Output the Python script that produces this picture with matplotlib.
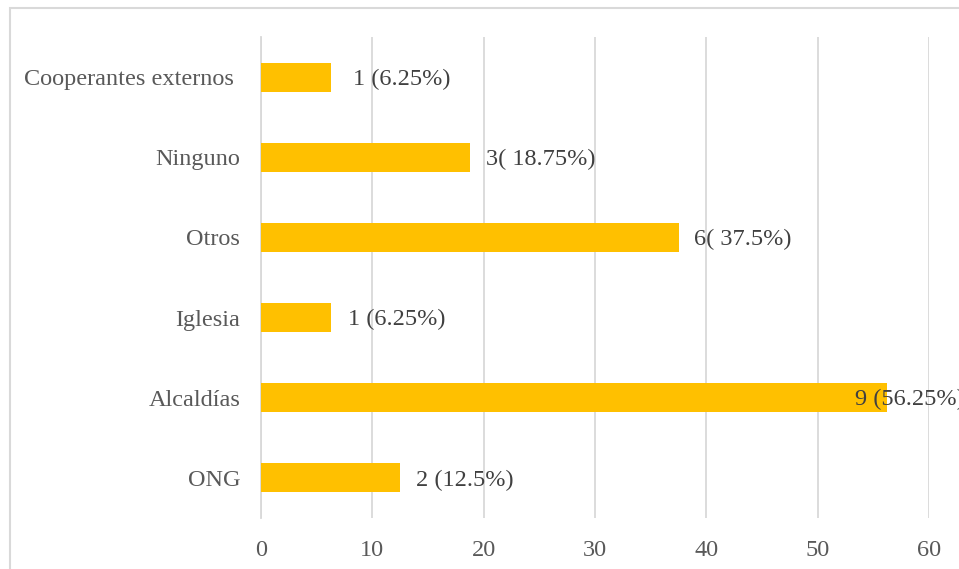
import matplotlib
matplotlib.use("Agg")
import matplotlib.pyplot as plt
from matplotlib.patches import Rectangle

categories = ["ONG", "Alcaldías", "Iglesia", "Otros", "Ninguno", "Cooperantes externos "]
values = [12.5, 56.25, 6.25, 37.5, 18.75, 6.25]
labels = ["2 (12.5%)", "9 (56.25%)", "1 (6.25%)", "6( 37.5%)", "3( 18.75%)", "1 (6.25%)"]
label_offsets_px = [16, -32, 17, 16, 16, 22]
xticks = [0, 10, 20, 30, 40, 50, 60]

W, H = 959, 569
fig = plt.figure(figsize=(W / 100, H / 100), dpi=100)
plt.rcParams['font.family'] = ['Liberation Serif', 'DejaVu Serif']

ax = fig.add_axes([261 / W, 1 - 518 / H, (929 - 261) / W, (518 - 37) / H])
text_color = "#595959"
grid_color = "#D9D9D9"
fs = 17.5

y = list(range(len(categories)))
ax.barh(y, values, height=0.36, color="#FFC000", zorder=3)
ax.set_xlim(0, 60)
ax.set_ylim(-0.5, len(categories) - 0.5)
ax.set_xticks(xticks)
ax.set_xticklabels([str(t) for t in xticks])
ax.set_yticks(y)
ax.set_yticklabels(categories)
ax.tick_params(axis='both', length=0, labelsize=fs, colors=text_color)
ax.tick_params(axis='y', pad=15)
ax.tick_params(axis='x', pad=16)
ax.grid(axis='x', color=grid_color, linewidth=1.3, zorder=0)
for s in ["top", "right", "bottom"]:
    ax.spines[s].set_visible(False)
ax.spines["left"].set_color(grid_color)
ax.spines["left"].set_linewidth(1.3)

for yi, v, lab, off in zip(y, values, labels, label_offsets_px):
    ax.annotate(lab, xy=(v, yi), xytext=(off * 0.72, -1.5), textcoords="offset points",
                va="center", ha="left", fontsize=fs, color="#404040", zorder=4,
                annotation_clip=False)

# outer chart frame (partially cut off in the reference)
fig.add_artist(Rectangle((10 / W, -0.1), 1.2, 1.1 - 8 / H,
                         transform=fig.transFigure, fill=False,
                         edgecolor=grid_color, linewidth=1.5, clip_on=False))

fig.savefig("out.png", dpi=100)
